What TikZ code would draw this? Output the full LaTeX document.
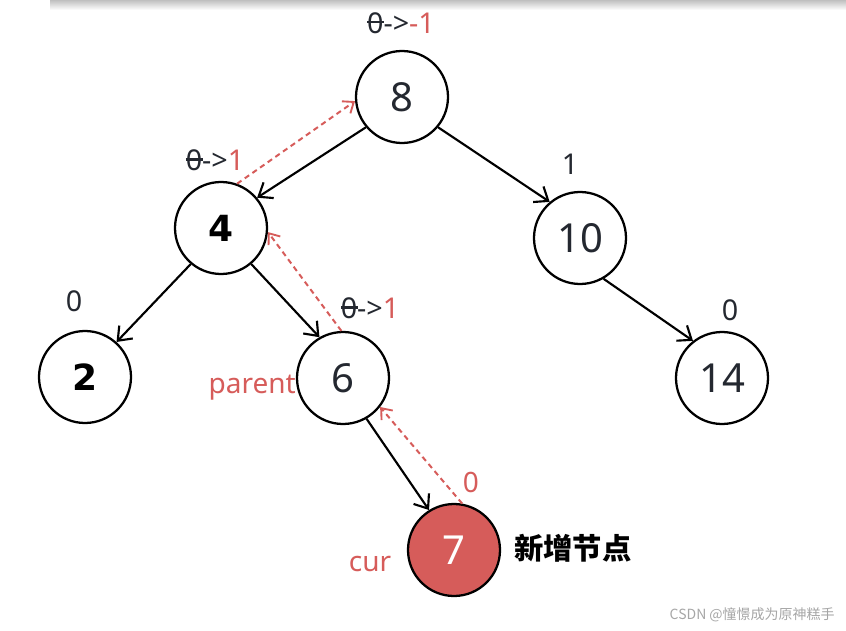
\documentclass[tikz,border=0pt]{standalone}
\usepackage{fontspec}
\setmainfont{Noto Sans}
\newfontfamily\cjk{Noto Sans CJK SC}
\newfontfamily\bnum{DejaVu Sans}
\usetikzlibrary{arrows.meta}
\definecolor{myred}{RGB}{214,92,90}
\definecolor{ink}{RGB}{36,40,48}
\newcommand{\szero}{\makebox[0pt][l]{\hspace{0.0em}\rule[0.34em]{0.6em}{0.07em}}0}
\begin{document}
\begin{tikzpicture}[x=0.75pt,y=-0.75pt,
  tnode/.style={circle,draw=black,line width=1.7pt,minimum size=69pt,inner sep=0pt,font=\fontsize{30}{30}\selectfont,text=ink},
  bnode/.style={tnode,text=black,font=\bnum\bfseries\fontsize{27}{27}\selectfont},
  lab/.style={font=\fontsize{21.5}{21.5}\selectfont,text=ink,inner sep=0pt},
  rlab/.style={font=\fontsize{21}{21}\selectfont,text=myred,inner sep=0pt},
  edge/.style={line width=1.6pt,-{Straight Barb[length=9pt,width=14pt,line width=1.6pt]}},
  back/.style={myred,line width=1.5pt,dash pattern=on 4pt off 3pt,-{Straight Barb[length=7pt,width=11pt,line width=1.4pt]}}]
\useasboundingbox (0,0) rectangle (846,631);
\shade[top color=black!25,bottom color=white] (50,0) rectangle (846,10);
\node[tnode] (n8) at (402,97) {8};
\node[bnode] (n4) at (221,228) {4};
\node[tnode] (n10) at (580,238) {10};
\node[bnode] (n2) at (85,377) {\raisebox{-3pt}{2}};
\node[tnode] (n6) at (343,378) {6};
\node[tnode] (n14) at (722,378) {14};
\node[tnode,fill=myred,text=white] (n7) at (454,550) {7};
% labels
\node[lab] (l8) at (401,23) {\szero->\textcolor{myred}{-1}};
\node[lab] (l4) at (215,160) {\szero->\textcolor{myred}{1}};
\node[lab] (l10) at (570,164) {1};
\node[lab] (l2) at (74,301) {0};
\node[lab] (l6) at (370,308) {\szero->\textcolor{myred}{1}};
\node[lab] (l14) at (730,310) {0};
\node[rlab] (l7) at (471,482) {0};
\node[rlab,anchor=east] (par) at (296,388) {parent};
\node[rlab] (cur) at (370,564) {cur};
\node[font=\cjk\bfseries\fontsize{22}{22}\selectfont,anchor=west,inner sep=0pt] (new) at (514,548) {新增节点};
\node[font=\cjk\fontsize{10.5}{10.5}\selectfont,text=black!35,anchor=east,inner sep=0pt] (wm) at (835,615) {CSDN @憧憬成为原神糕手};
% edges
\draw[edge] (n8.220) -- (n4.40);
\draw[edge] (n8.320) -- (n10.130);
\draw[edge] (n4.230) -- (n2.48);
\draw[edge] (n4.310) -- (n6.120);
\draw[edge] (n10.300) -- (n14.128);
\draw[edge] (n6.300) -- (n7.122);
% back pointers
\draw[back] (n4.70) -- (n8.185);
\draw[back] (n6.92) -- (n4.355);
\draw[back] (n7.80) -- (n6.322);
\end{tikzpicture}
\end{document}
